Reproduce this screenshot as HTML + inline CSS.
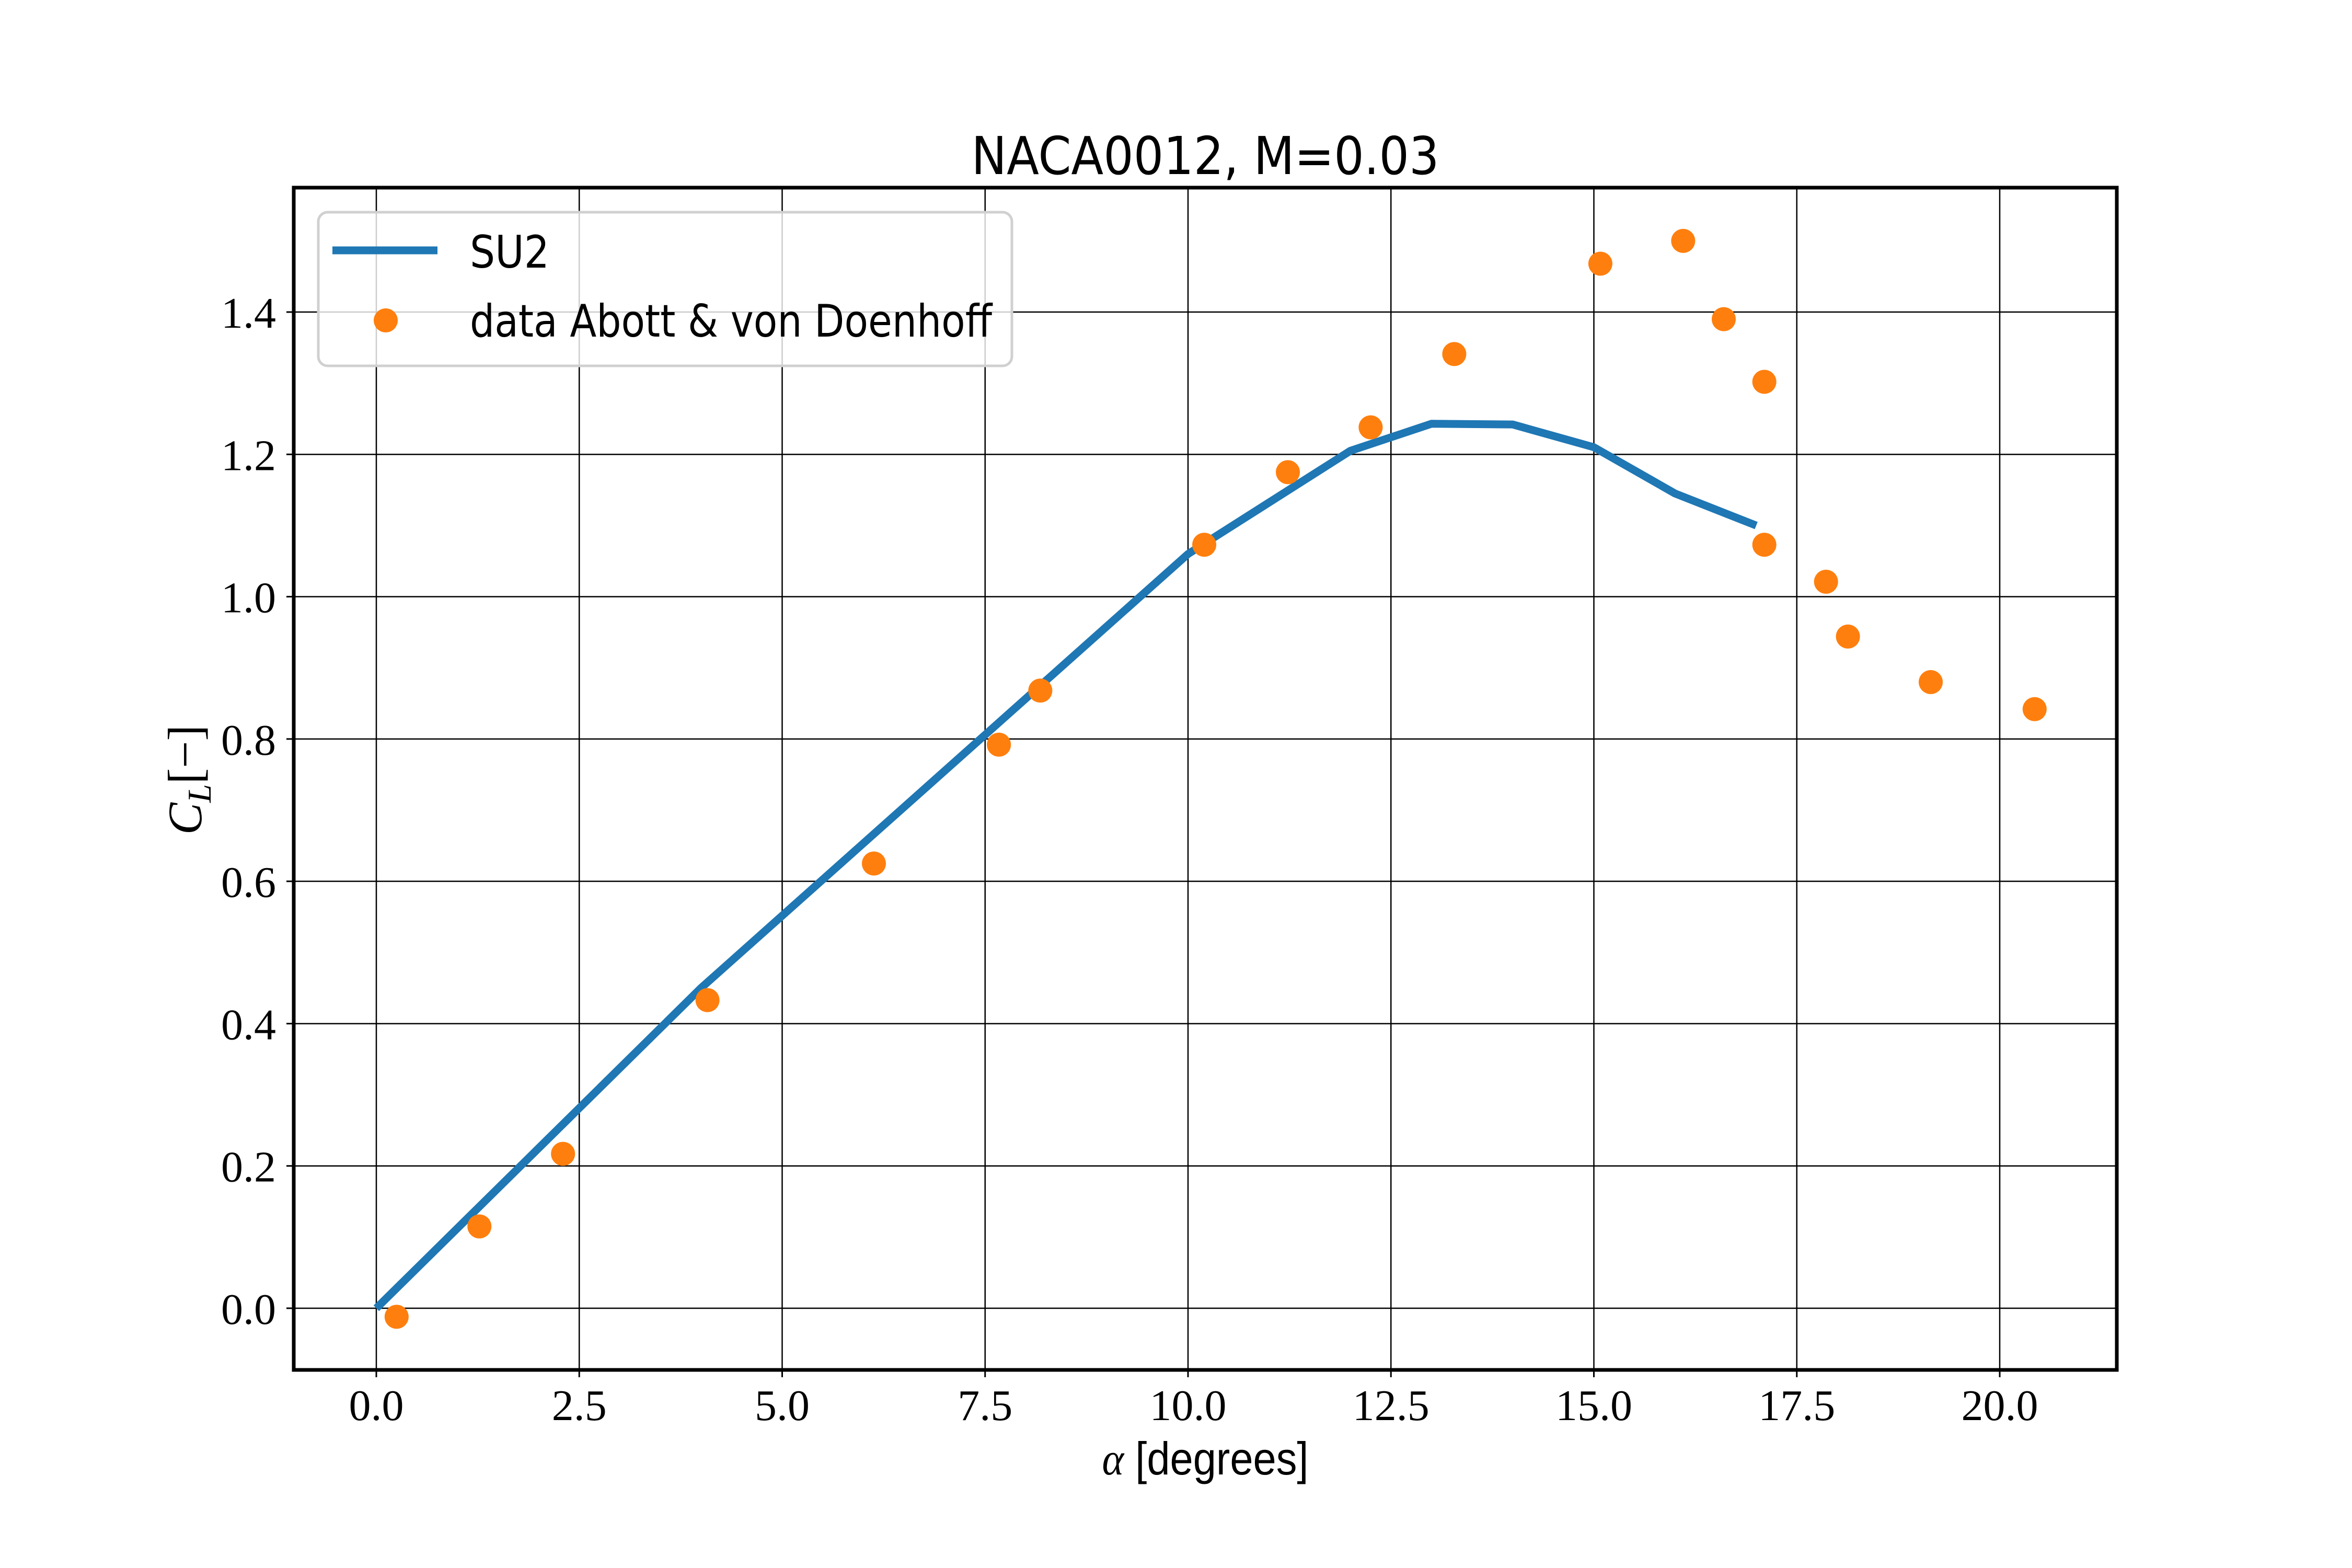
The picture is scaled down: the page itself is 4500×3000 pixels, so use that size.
<!DOCTYPE html>
<html><head><meta charset="utf-8"><style>
html,body{margin:0;padding:0;background:#fff;}
svg{display:block;}
</style></head><body>
<svg id="chart" width="4500" height="3000" viewBox="0 0 4500 3000" xmlns="http://www.w3.org/2000/svg">
<rect x="0" y="0" width="4500" height="3000" fill="#fff"/>
<g id="grid"></g>
<g id="series"></g>
<rect x="562" y="359" width="3488" height="2262" fill="none" stroke="#000" stroke-width="7"/>
<g id="ticks"></g>
<text x="2306" y="333" font-family="'DejaVu Sans','Liberation Sans',sans-serif" font-size="100" text-anchor="middle" textLength="895" lengthAdjust="spacingAndGlyphs">NACA0012, M=0.03</text>
<text x="2306" y="2821" font-family="'Liberation Sans',sans-serif" font-size="88" text-anchor="middle" textLength="395" lengthAdjust="spacingAndGlyphs"><tspan font-family="'Liberation Serif',serif" font-style="italic">α</tspan> [degrees]</text>
<text transform="translate(385,1492) rotate(-90)" font-family="'Liberation Serif',serif" font-size="92" text-anchor="middle"><tspan font-style="italic">C</tspan><tspan font-style="italic" font-size="64" dy="18">L</tspan><tspan dy="-18">[−]</tspan></text>
<g>
<rect x="609" y="406" width="1327" height="294" rx="18" fill="#fff" fill-opacity="0.8" stroke="#d0d0d0" stroke-width="5"/>
<line x1="636" y1="479" x2="837" y2="479" stroke="#1f77b4" stroke-width="15"/>
<text x="899" y="512" font-family="'DejaVu Sans','Liberation Sans',sans-serif" font-size="86" textLength="152" lengthAdjust="spacingAndGlyphs">SU2</text>
<circle cx="738" cy="613" r="23" fill="#ff7f0e"/>
<text x="899" y="644" font-family="'DejaVu Sans','Liberation Sans',sans-serif" font-size="86" textLength="999" lengthAdjust="spacingAndGlyphs">data Abott &amp; von Doenhoff</text>
</g>
</svg>
<script>
const xTicks = [0, 2.5, 5, 7.5, 10, 12.5, 15, 17.5, 20];
const xTickLabels = ["0.0","2.5","5.0","7.5","10.0","12.5","15.0","17.5","20.0"];
const yTicks = [0, 0.2, 0.4, 0.6, 0.8, 1.0, 1.2, 1.4];
const yTickLabels = ["0.0","0.2","0.4","0.6","0.8","1.0","1.2","1.4"];
const su2Alpha = [0, 4, 10, 12, 13, 14, 15, 16, 17];
const su2CL = [0, 0.45, 1.06, 1.205, 1.243, 1.242, 1.21, 1.145, 1.1];
const expAlpha = [0.25,1.27,2.3,4.08,6.13,7.67,8.18,10.2,11.23,12.25,13.28,15.08,16.1,16.6,17.1,17.1,17.86,18.13,19.15,20.43];
const expCL = [-0.012,0.115,0.217,0.433,0.625,0.792,0.868,1.073,1.175,1.238,1.341,1.468,1.5,1.39,1.302,1.073,1.021,0.944,0.88,0.842];

const NS = "http://www.w3.org/2000/svg";
const X = v => 720 + v * 155.3;
const Y = v => 2503 - v * 1361.4;
const L = 562, R = 4050, T = 359, B = 2621;
const grid = document.getElementById('grid');
const ticks = document.getElementById('ticks');
const series = document.getElementById('series');
function mk(tag, attrs, parent){const e=document.createElementNS(NS,tag);for(const k in attrs)e.setAttribute(k,attrs[k]);parent.appendChild(e);return e;}

xTicks.forEach((v,i)=>{
  const g = mk('line',{x1:X(v),x2:X(v),y1:T,y2:B,stroke:'#000','stroke-width':2.5},grid);
  
  
  const t = mk('line',{x1:X(v),x2:X(v),y1:B,y2:B+14,stroke:'#000','stroke-width':3},ticks);
  
  
  const lb = mk('text',{x:X(v),y:2717,'font-family':"'Liberation Serif',serif",'font-size':84,'text-anchor':'middle'},ticks);
  lb.textContent = xTickLabels[i];
  
  
});
yTicks.forEach((v,i)=>{
  const g = mk('line',{x1:L,x2:R,y1:Y(v),y2:Y(v),stroke:'#000','stroke-width':2.5},grid);
  
  
  const t = mk('line',{x1:L-14,x2:L,y1:Y(v),y2:Y(v),stroke:'#000','stroke-width':3},ticks);
  
  
  const lb = mk('text',{x:528,y:Y(v)+30,'font-family':"'Liberation Serif',serif",'font-size':84,'text-anchor':'end'},ticks);
  lb.textContent = yTickLabels[i];
  
  
});
const pts = su2Alpha.map((a,i)=>X(a)+','+Y(su2CL[i])).join(' ');
const pl = mk('polyline',{points:pts,fill:'none',stroke:'#1f77b4','stroke-width':15,'stroke-linejoin':'round'},series);


expAlpha.forEach((a,i)=>{
  const c = mk('circle',{cx:X(a),cy:Y(expCL[i]),r:23,fill:'#ff7f0e'},series);
  
  
});
</script>
</body></html>
